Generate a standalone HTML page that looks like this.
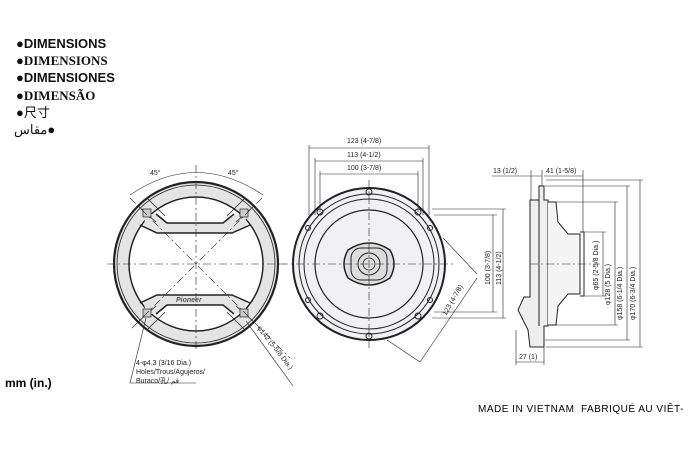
<!DOCTYPE html>
<html><head><meta charset="utf-8"><style>
html,body{margin:0;padding:0;background:#fff;}
body{width:700px;height:450px;overflow:hidden;position:relative;font-family:"Liberation Sans","Noto Sans CJK SC",sans-serif;}
.h{position:absolute;left:16px;font-size:13px;font-weight:bold;line-height:16px;color:#111;}
</style></head><body>
<div class="h" style="top:36px">●DIMENSIONS</div>
<div class="h" style="top:53px;font-family:'Liberation Serif',serif">●DIMENSIONS</div>
<div class="h" style="top:70px">●DIMENSIONES</div>
<div class="h" style="top:88px;font-family:'Liberation Serif',serif">●DIMENSÃO</div>
<div class="h" style="top:105px;font-weight:normal">●尺寸</div>
<div class="h" style="top:122px;left:14px;font-weight:normal">مقاس●</div>
<div style="position:absolute;left:5px;top:376px;font-size:12px;font-weight:bold">mm (in.)</div>
<div style="position:absolute;left:478px;top:404px;font-size:10px;letter-spacing:0.5px">MADE IN VIETNAM &nbsp;FABRIQUÉ AU VIÊT-</div>
<svg width="700" height="450" style="position:absolute;left:0;top:0" font-family="Liberation Sans" font-size="7" fill="none" stroke="#222">
<!-- left grille -->
<g>
<circle cx="196" cy="264" r="75" stroke="#e4e4e4" stroke-width="14"/>
<circle cx="196" cy="264" r="82" stroke-width="2.2"/>
<circle cx="196" cy="264" r="79" stroke-width="0.8"/>
<circle cx="196" cy="264" r="67" stroke-width="1.5"/>
<path d="M147,213 L158,215 L167,223 L223,223 L233,215 L245,213 L247,227 L232,233 L157,233 L143,227 Z" fill="#e4e4e4" stroke="none"/>
<path d="M147,315 L158,313 L167,305 L223,305 L233,313 L245,315 L247,301 L232,295 L157,295 L143,301 Z" fill="#e4e4e4" stroke="none"/>
<path d="M156,214 L167,223 L223,223 L234,214" stroke-width="1.5"/>
<path d="M140,225 L157,233 L232,233 L250,225" stroke-width="1.5"/>
<path d="M156,314 L167,305 L223,305 L234,314" stroke-width="1.5"/>
<path d="M140,303 L157,295 L232,295 L250,303" stroke-width="1.5"/>
<g stroke-width="0.8">
<line x1="138" y1="206" x2="156" y2="222"/><line x1="148" y1="199" x2="165" y2="216"/>
<line x1="254" y1="206" x2="236" y2="222"/><line x1="244" y1="199" x2="227" y2="216"/>
<line x1="138" y1="322" x2="156" y2="306"/><line x1="148" y1="329" x2="165" y2="312"/>
<line x1="254" y1="322" x2="236" y2="306"/><line x1="244" y1="329" x2="227" y2="312"/>
</g>
<g stroke-width="0.7" fill="#ccc">
<rect x="143" y="209" width="8" height="8"/><rect x="240" y="209" width="8" height="8"/>
<rect x="143" y="309" width="8" height="8"/><rect x="240" y="309" width="8" height="8"/>
</g>
<text x="176" y="302" fill="#555" stroke="none" font-style="italic" font-weight="bold" font-size="7">Pioneer</text>
<line x1="107" y1="264" x2="285" y2="264" stroke-width="0.6" stroke-dasharray="8,3,2,3"/>
<line x1="196" y1="165" x2="196" y2="350" stroke-width="0.6" stroke-dasharray="8,3,2,3"/>
<line x1="130" y1="198" x2="290" y2="358" stroke-width="0.6" stroke-dasharray="8,3,2,3"/>
<line x1="262" y1="198" x2="130" y2="330" stroke-width="0.6" stroke-dasharray="8,3,2,3"/>
<path d="M130,195 Q196,150 263,195" stroke-width="0.6"/>
<text x="150" y="175" fill="#222" stroke="none">45°</text><text x="228" y="175" fill="#222" stroke="none">45°</text>
<line x1="246" y1="321" x2="293" y2="386" stroke-width="0.6"/>
<text x="257" y="328" fill="#222" stroke="none" transform="rotate(52 257 328)">φ142 (5-5/8 Dia.)</text>
<polyline points="146,318 130,383 196,383" stroke-width="0.6"/>
<text x="136" y="365" fill="#222" stroke="none">4-φ4.3 (3/16 Dia.)</text>
<text x="136" y="374" fill="#222" stroke="none">Holes/Trous/Agujeros/</text>
<text x="136" y="383" fill="#222" stroke="none">Buraco/孔/ قم</text>
</g>
<!-- middle speaker -->
<g>
<circle cx="369" cy="264" r="76" stroke-width="2" fill="#f1f1f4"/>
<circle cx="369" cy="264" r="70" stroke-width="1"/>
<circle cx="369" cy="264" r="65" stroke-width="1"/>
<circle cx="369" cy="264" r="54" stroke-width="1.2"/>
<path d="M348,250 Q369,236 390,250 Q398,264 390,278 Q369,292 348,278 Q340,264 348,250 Z" stroke-width="1.5" fill="#ddd"/>
<rect x="351" y="248" width="36" height="32" rx="10" stroke-width="1"/>
<circle cx="369" cy="264" r="11" stroke-width="1"/><circle cx="369" cy="264" r="6" stroke-width="0.8"/>
<circle cx="369" cy="192" r="3"/><circle cx="369" cy="336" r="3"/>
<circle cx="320" cy="212" r="3"/><circle cx="418" cy="212" r="3"/><circle cx="320" cy="316" r="3"/><circle cx="418" cy="316" r="3"/>
<circle cx="308" cy="228" r="2.5"/><circle cx="430" cy="228" r="2.5"/><circle cx="308" cy="300" r="2.5"/><circle cx="430" cy="300" r="2.5"/>
<line x1="280" y1="264" x2="456" y2="264" stroke-width="0.6" stroke-dasharray="8,3,2,3"/>
<line x1="369" y1="180" x2="369" y2="350" stroke-width="0.6" stroke-dasharray="8,3,2,3"/>
<g stroke-width="0.6">
<line x1="309" y1="148" x2="429" y2="148"/><line x1="315" y1="161" x2="423" y2="161"/><line x1="320" y1="174" x2="418" y2="174"/>
<line x1="309" y1="145" x2="309" y2="215"/><line x1="429" y1="145" x2="429" y2="215"/>
<line x1="315" y1="158" x2="315" y2="215"/><line x1="423" y1="158" x2="423" y2="215"/>
<line x1="320" y1="171" x2="320" y2="212"/><line x1="418" y1="171" x2="418" y2="212"/>
<line x1="432" y1="209" x2="506" y2="209"/><line x1="432" y1="318" x2="506" y2="318"/>
<line x1="434" y1="215" x2="497" y2="215"/><line x1="434" y1="312" x2="497" y2="312"/>
<line x1="493" y1="215" x2="493" y2="312"/><line x1="503" y1="209" x2="503" y2="318"/>
<line x1="443" y1="238" x2="477" y2="274"/><line x1="387" y1="340" x2="420" y2="362"/><line x1="477" y1="278" x2="420" y2="362"/>
</g>
<text x="347" y="143" fill="#222" stroke="none">123 (4-7/8)</text>
<text x="347" y="157" fill="#222" stroke="none">113 (4-1/2)</text>
<text x="347" y="170" fill="#222" stroke="none">100 (3-7/8)</text>
<text fill="#222" stroke="none" transform="translate(490 285) rotate(-90)">100 (3-7/8)</text>
<text fill="#222" stroke="none" transform="translate(501 285) rotate(-90)">113 (4-1/2)</text>
<text fill="#222" stroke="none" transform="translate(446 316) rotate(-60)">123 (4-7/8)</text>
</g>
<!-- side view -->
<g stroke-width="1">
<path d="M539,186 L544,186 L544,200 L548,200 L548,326 L544,326 L544,347 L530,347 L528,330 L518,310 L524,297 L530,297 L530,200 L539,200 Z" fill="#eee"/>
<path d="M548,202 L556,202 L558,222 L568,234 L580,234 L580,294 L568,294 L558,306 L556,325 L548,325" fill="#f4f4f4"/>
<path d="M580,232 L584,232 L584,296 L580,296"/>
<line x1="539" y1="200" x2="539" y2="326"/>
<line x1="530" y1="264" x2="600" y2="264" stroke-width="0.6" stroke-dasharray="8,3,2,3"/>
<g stroke-width="0.6">
<line x1="531" y1="170" x2="531" y2="200"/><line x1="542" y1="170" x2="542" y2="186"/><line x1="583" y1="170" x2="583" y2="232"/>
<line x1="492" y1="176" x2="542" y2="176"/><line x1="544" y1="176" x2="583" y2="176"/>
<line x1="584" y1="232" x2="606" y2="232"/><line x1="584" y1="296" x2="606" y2="296"/><line x1="603" y1="232" x2="603" y2="296"/>
<line x1="556" y1="202" x2="618" y2="202"/><line x1="556" y1="325" x2="618" y2="325"/><line x1="615" y1="202" x2="615" y2="325"/>
<line x1="545" y1="186" x2="630" y2="186"/><line x1="545" y1="340" x2="630" y2="340"/><line x1="627" y1="186" x2="627" y2="340"/>
<line x1="546" y1="180" x2="643" y2="180"/><line x1="546" y1="347" x2="643" y2="347"/><line x1="640" y1="180" x2="640" y2="347"/>
<line x1="516" y1="330" x2="516" y2="365"/><line x1="544" y1="347" x2="544" y2="365"/><line x1="516" y1="362" x2="544" y2="362"/>
</g>
<text x="493" y="173" fill="#222" stroke="none">13 (1/2)</text>
<text x="546" y="173" fill="#222" stroke="none">41 (1-5/8)</text>
<text x="519" y="359" fill="#222" stroke="none">27 (1)</text>
<text fill="#222" stroke="none" transform="translate(598 290) rotate(-90)">φ65 (2-5/8 Dia.)</text>
<text fill="#222" stroke="none" transform="translate(610 305) rotate(-90)">φ128 (5 Dia.)</text>
<text fill="#222" stroke="none" transform="translate(622 320) rotate(-90)">φ158 (6-1/4 Dia.)</text>
<text fill="#222" stroke="none" transform="translate(635 320) rotate(-90)">φ170 (6-3/4 Dia.)</text>
</g>
</svg>
</body></html>
